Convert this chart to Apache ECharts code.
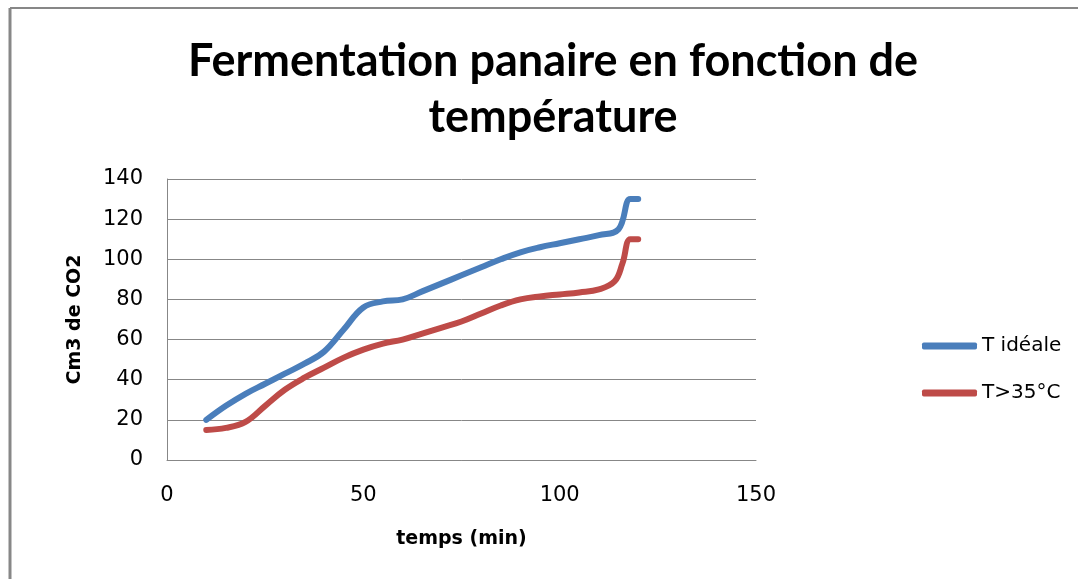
<!DOCTYPE html>
<html>
<head>
<meta charset="utf-8">
<script src="https://cdn.jsdelivr.net/npm/echarts@6/dist/echarts.min.js"></script>
<style>
  html, body { margin: 0; padding: 0; background: #fff; }
  #chart { width: 1078px; height: 579px; }
</style>
</head>
<body>
<div id="chart"></div>
<script>
// temps (min)
const tempsIdeale = [10, 15, 20, 25, 30, 35, 40, 45, 50, 55, 60, 65, 70, 75, 80, 85, 90, 95, 100, 105, 110, 115, 118, 120]
const co2Ideale = [20, 27, 33, 38, 43, 48, 54, 65, 76, 79, 80, 84, 88, 92, 96, 100, 103.5, 106, 108, 110, 112, 115, 130, 130]

const temps35 = [10, 15, 20, 25, 30, 35, 40, 45, 50, 55, 60, 65, 70, 75, 80, 85, 90, 95, 100, 105, 110, 114, 116, 118, 120]
const co2_35 = [15, 16, 19, 27, 35, 41, 46, 51, 55, 58, 60, 63, 66, 69, 73, 77, 80, 81.5, 82.5, 83.5, 85, 89, 98, 110, 110]

const seriesNames = ['T idéale', 'T>35°C']
const seriesColors = ['#4a7ebb', '#be4b48']

const xTicks = { min: 0, max: 150, interval: 50 }
const yTicks = { min: 0, max: 140, interval: 20 }

const pairs = (xs, ys) => xs.map((x, i) => [x, ys[i]])

const titleFont = "Lato, 'Open Sans', sans-serif"
const font = "'DejaVu Sans', sans-serif"
const gridColor = '#878787'

const chart = echarts.init(document.getElementById('chart'))

chart.setOption({
  backgroundColor: '#fff',
  animation: false,
  textStyle: { fontFamily: font },
  title: {
    text: 'Fermentation panaire en fonction de\ntempérature',
    left: 548,
    top: 28,
    textAlign: 'center',
    textStyle: { fontSize: 45, fontWeight: 'bold', color: '#000', lineHeight: 56, fontFamily: titleFont }
  },
  legend: {
    orient: 'vertical',
    left: 917,
    top: 331,
    itemWidth: 55,
    itemHeight: 7,
    itemGap: 27,
    icon: 'roundRect',
    textStyle: { fontSize: 20, color: '#000', fontFamily: font },
    data: seriesNames
  },
  grid: { left: 167, right: 322, top: 179, bottom: 119 },
  xAxis: {
    type: 'value',
    min: xTicks.min,
    max: xTicks.max,
    interval: xTicks.interval,
    name: 'temps (min)',
    nameLocation: 'middle',
    nameGap: 70,
    nameTextStyle: { fontSize: 19, fontWeight: 'bold', color: '#000', fontFamily: font },
    axisLine: { show: true, lineStyle: { color: gridColor, width: 1 } },
    axisTick: { show: false },
    axisLabel: { fontSize: 21, color: '#000', margin: 25, fontFamily: font },
    splitLine: { show: false }
  },
  yAxis: {
    type: 'value',
    min: yTicks.min,
    max: yTicks.max,
    interval: yTicks.interval,
    name: 'Cm3 de CO2',
    nameLocation: 'middle',
    nameGap: 82,
    nameTextStyle: { fontSize: 19, fontWeight: 'bold', color: '#000', fontFamily: font },
    axisLine: { show: true, lineStyle: { color: gridColor, width: 1 } },
    axisTick: { show: false },
    axisLabel: { fontSize: 21, color: '#000', margin: 24, padding: [6, 0, 0, 0], fontFamily: font },
    splitLine: { show: true, lineStyle: { color: gridColor, width: 1 } }
  },
  graphic: [
    { type: 'line', shape: { x1: 10, y1: 8, x2: 1078, y2: 8 }, style: { stroke: gridColor, lineWidth: 2 } },
    { type: 'line', shape: { x1: 10, y1: 8, x2: 10, y2: 579 }, style: { stroke: gridColor, lineWidth: 3 } }
  ],
  series: [
    {
      name: seriesNames[0],
      type: 'line',
      smooth: 0.4,
      showSymbol: false,
      color: seriesColors[0],
      lineStyle: { width: 6, cap: 'round', join: 'round' },
      data: pairs(tempsIdeale, co2Ideale)
    },
    {
      name: seriesNames[1],
      type: 'line',
      smooth: 0.4,
      showSymbol: false,
      color: seriesColors[1],
      lineStyle: { width: 6, cap: 'round', join: 'round' },
      data: pairs(temps35, co2_35)
    }
  ]
})
</script>
</body>
</html>
